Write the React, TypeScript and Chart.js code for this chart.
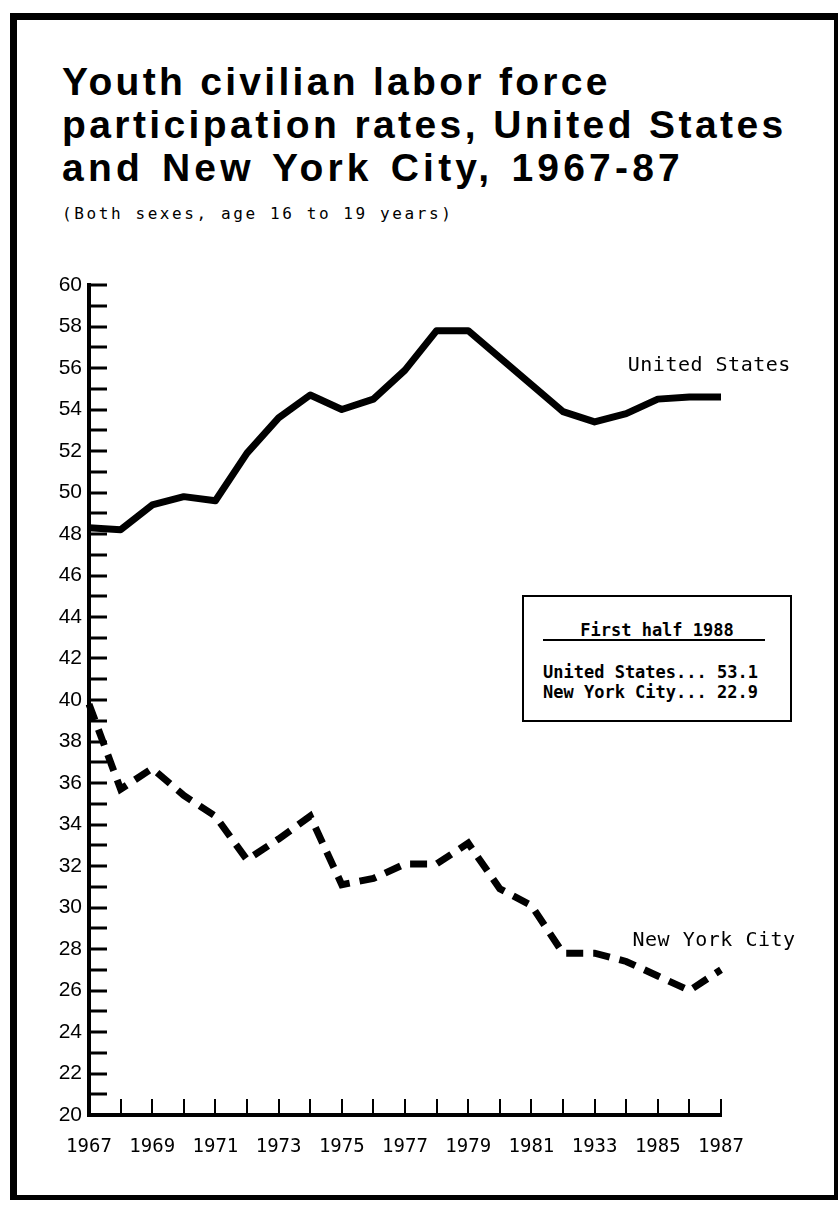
import React, { useEffect, useRef } from 'react';
import { Chart, registerables } from 'chart.js';

Chart.register(...registerables);

// ---------- data ----------
const years = [
  '1967', '1968', '1969', '1970', '1971', '1972', '1973', '1974', '1975', '1976', '1977',
  '1978', '1979', '1980', '1981', '1982', '1983', '1984', '1985', '1986', '1987',
];
const xTickLabels = ['1967', '1969', '1971', '1973', '1975', '1977', '1979', '1981', '1933', '1985', '1987'];
const unitedStates = [
  48.3, 48.2, 49.4, 49.8, 49.6, 51.9, 53.6, 54.7, 54.0, 54.5, 55.9,
  57.8, 57.8, 56.5, 55.2, 53.9, 53.4, 53.8, 54.5, 54.6, 54.6,
];
const newYorkCity = [
  39.8, 35.7, 36.7, 35.4, 34.4, 32.3, 33.3, 34.4, 31.1, 31.4, 32.1,
  32.1, 33.1, 30.9, 30.1, 27.8, 27.8, 27.4, 26.7, 26.0, 27.0,
];
const seriesNames = ['United States', 'New York City'];
const titleLines = [
  'Youth civilian labor force',
  'participation rates, United States',
  'and New York City, 1967-87',
];
const subtitle = '(Both sexes, age 16 to 19 years)';
const insetTitle = 'First half 1988';
const insetNames = ['United States', 'New York City'];
const insetValues = ['53.1', '22.9'];

// ---------- label anchors (in data units) ----------
const labelAnchors = [
  { x: 17.05, y: 56.1 },
  { x: 17.2, y: 28.4 },
];
const titleLetterSpacing = [3.3, 3.4, 4.2];
const titleWordSpacing = [0, 0, 3];

const decorPlugin = {
  id: 'decor',
  afterDraw(chart: any) {
    const { ctx, chartArea, scales } = chart;
    const x = scales.x;
    const y = scales.y;
    ctx.save();
    ctx.strokeStyle = '#000';
    ctx.lineCap = 'butt';
    // y minor/major ticks pointing inward
    ctx.lineWidth = 3;
    for (let v = y.min; v <= y.max; v += 1) {
      const py = Math.round(y.getPixelForValue(v));
      ctx.beginPath();
      ctx.moveTo(chartArea.left, py);
      ctx.lineTo(chartArea.left + 18, py);
      ctx.stroke();
    }
    // x ticks pointing upward
    ctx.lineWidth = 2;
    for (let i = 0; i < x.ticks.length; i++) {
      const px = Math.round(x.getPixelForTick(i));
      ctx.beginPath();
      ctx.moveTo(px, chartArea.bottom);
      ctx.lineTo(px, chartArea.bottom - 16);
      ctx.stroke();
    }
    // series labels
    ctx.fillStyle = '#000';
    ctx.font = '20px "DejaVu Sans Mono"';
    (ctx as any).letterSpacing = '0.5px';
    ctx.textAlign = 'left';
    ctx.textBaseline = 'middle';
    seriesNames.forEach((name, i) => {
      const a = labelAnchors[i];
      ctx.fillText(name, x.getPixelForValue(a.x), y.getPixelForValue(a.y));
    });
    ctx.restore();
  },
};

export default function App() {
  const canvasRef = useRef<HTMLCanvasElement | null>(null);

  useEffect(() => {
    if (!canvasRef.current) return;
    const chart = new Chart(canvasRef.current, {
      type: 'line',
      data: {
        labels: years,
        datasets: [
          {
            label: seriesNames[0],
            data: unitedStates,
            borderColor: '#000',
            borderWidth: 7,
            pointRadius: 0,
            tension: 0,
            borderJoinStyle: 'round',
            borderCapStyle: 'butt',
            fill: false,
          },
          {
            label: seriesNames[1],
            data: newYorkCity,
            borderColor: '#000',
            borderWidth: 7,
            borderDash: [17, 10],
            pointRadius: 0,
            tension: 0,
            borderJoinStyle: 'miter',
            borderCapStyle: 'butt',
            fill: false,
          },
        ],
      },
      options: {
        responsive: false,
        animation: false,
        devicePixelRatio: 1,
        layout: { padding: { top: 45, right: 113, bottom: 0, left: 0 } },
        plugins: {
          legend: { display: false },
          tooltip: { enabled: false },
          title: { display: false },
        },
        scales: {
          x: {
            type: 'category',
            offset: false,
            grid: { display: false, drawTicks: false },
            border: { display: true, color: '#000', width: 4 },
            ticks: {
              autoSkip: false,
              maxRotation: 0,
              minRotation: 0,
              color: '#000',
              padding: 21,
              font: { family: '"DejaVu Sans Mono"', size: 19 },
              callback: (_v: any, idx: number) => (idx % 2 === 0 ? xTickLabels[idx / 2] : ''),
            },
            afterFit: (s: any) => {
              s.height = 80;
            },
          },
          y: {
            min: 20,
            max: 60,
            grid: { display: false, drawTicks: false },
            border: { display: true, color: '#000', width: 4 },
            ticks: {
              stepSize: 2,
              color: '#000',
              padding: 7,
              font: { family: '"Liberation Sans", Arial, sans-serif', size: 21 },
            },
            afterFit: (s: any) => {
              s.width = 72;
            },
          },
        },
      },
      plugins: [decorPlugin],
    });
    return () => chart.destroy();
  }, []);

  const mono = '"DejaVu Sans Mono", monospace';

  return (
    <div
      style={{
        position: 'fixed',
        left: 10,
        top: 13,
        width: 828,
        height: 1187,
        boxSizing: 'border-box',
        borderStyle: 'solid',
        borderColor: '#000',
        borderWidth: '7px 4px 5px 7px',
        background: '#fff',
      }}
    >
      <div
        style={{
          position: 'absolute',
          left: 45,
          top: 40,
          fontFamily: '"Liberation Sans", Arial, sans-serif',
          fontWeight: 'bold',
          fontSize: 39,
          lineHeight: '43px',
          color: '#000',
          whiteSpace: 'nowrap',
        }}
      >
        {titleLines.map((t, i) => (
          <div
            key={t}
            style={{ letterSpacing: titleLetterSpacing[i] + 'px', wordSpacing: titleWordSpacing[i] + 'px' }}
          >
            {t}
          </div>
        ))}
      </div>
      <div
        style={{
          position: 'absolute',
          left: 45,
          top: 183.5,
          fontFamily: mono,
          fontSize: 16,
          lineHeight: '20px',
          letterSpacing: '2.6px',
          color: '#000',
          whiteSpace: 'nowrap',
        }}
      >
        {subtitle}
      </div>
      <canvas
        ref={canvasRef}
        width={817}
        height={955}
        style={{ position: 'absolute', left: 0, top: 220, width: 817, height: 955 }}
      />
      <div
        style={{
          position: 'absolute',
          left: 505,
          top: 575,
          width: 270,
          height: 127,
          boxSizing: 'border-box',
          border: '2px solid #000',
          background: '#fff',
          fontFamily: mono,
          fontWeight: 'bold',
          fontSize: 17,
          lineHeight: '20px',
          color: '#000',
          whiteSpace: 'nowrap',
        }}
      >
        <div style={{ position: 'absolute', left: 0, width: 266, top: 23, textAlign: 'center' }}>
          {insetTitle}
        </div>
        <div
          style={{ position: 'absolute', left: 19, top: 42, width: 222, height: 2, background: '#000' }}
        />
        {insetNames.map((n, i) => (
          <div key={n} style={{ position: 'absolute', left: 19, top: 65 + i * 20 }}>
            {n + '... ' + insetValues[i]}
          </div>
        ))}
      </div>
    </div>
  );
}
